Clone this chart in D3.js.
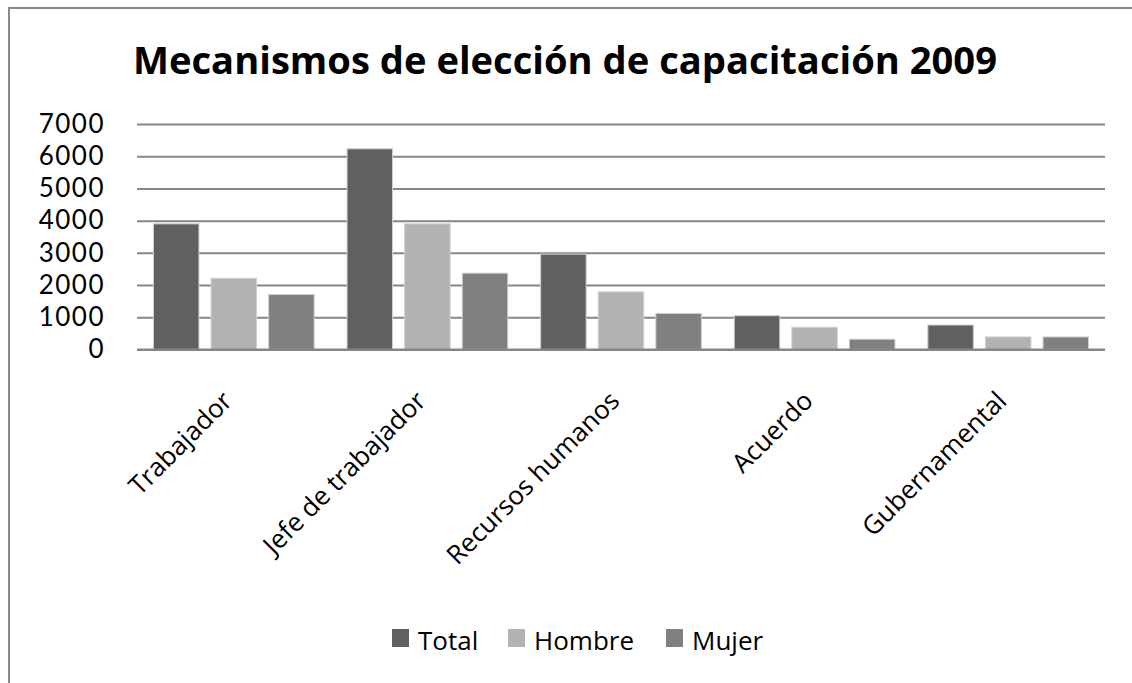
<!DOCTYPE html>
<html>
<head>
<meta charset="utf-8">
<script src="https://cdn.jsdelivr.net/npm/d3@7/dist/d3.min.js"></script>
<style>
  html, body { margin: 0; padding: 0; background: #fff; }
  svg { display: block; }
</style>
</head>
<body>
<svg id="chart" width="1132" height="683"></svg>
<script>
// Mechanisms used to choose training, 2009
const categories = ["Trabajador", "Jefe de trabajador", "Recursos humanos", "Acuerdo", "Gubernamental"];
const seriesNames = ["Total", "Hombre", "Mujer"];
const totalValues  = [3900, 6230, 2960, 1050, 760];
const hombreValues = [2210, 3900, 1790, 690, 390];
const mujerValues  = [1710, 2370, 1120, 320, 390];
const yTicks = [0, 1000, 2000, 3000, 4000, 5000, 6000, 7000];
const colors = ["#606060", "#b2b2b2", "#808080"];
const titleText = "Mecanismos de elección de capacitación 2009";

const seriesValues = [totalValues, hombreValues, mujerValues];
const rows = categories.map((c, i) => ({
  category: c,
  values: seriesNames.map((s, j) => ({ series: s, value: seriesValues[j][i], color: colors[j] }))
}));

const sansFont = "'Open Sans', Lato, sans-serif";
const tickFont = "Lato, 'Open Sans', sans-serif";

const svg = d3.select("#chart");

// outer frame
svg.append("rect")
  .attr("x", 9).attr("y", 8)
  .attr("width", 1140).attr("height", 700)
  .attr("fill", "none").attr("stroke", "#8a8a8a").attr("stroke-width", 2);

const plot = { left: 137, right: 1105, top: 124, bottom: 349.5 };

const x0 = d3.scaleBand()
  .domain(categories)
  .range([plot.left, plot.right])
  .paddingInner(0.17)
  .paddingOuter(0.085);

const x1 = d3.scaleBand()
  .domain(seriesNames)
  .range([0, x0.bandwidth()])
  .paddingInner(0.21)
  .paddingOuter(0);

const y = d3.scaleLinear()
  .domain([0, 7000])
  .range([plot.bottom, plot.top]);

// title
svg.append("text")
  .attr("x", 565).attr("y", 74)
  .attr("text-anchor", "middle")
  .style("font-family", sansFont)
  .style("font-size", "37px")
  .style("font-weight", 700)
  .attr("fill", "#000")
  .attr("textLength", 864)
  .attr("lengthAdjust", "spacingAndGlyphs")
  .text(titleText);

// gridlines and value labels
const yAxis = d3.axisLeft(y)
  .tickValues(yTicks)
  .tickSize(-(plot.right - plot.left))
  .tickPadding(32)
  .tickFormat(d3.format("d"));

const gy = svg.append("g")
  .attr("transform", `translate(${plot.left},0)`)
  .call(yAxis);
gy.select(".domain").remove();
gy.selectAll(".tick line").attr("stroke", "#868686").attr("stroke-width", 2);
gy.selectAll(".tick text")
  .style("font-family", tickFont)
  .style("font-size", "26px")
  .style("letter-spacing", "1.5px")
  .attr("fill", "#000");

// bars
const groups = svg.append("g").selectAll("g")
  .data(rows)
  .join("g")
  .attr("transform", d => `translate(${x0(d.category)},0)`);

groups.selectAll("rect")
  .data(d => d.values)
  .join("rect")
  .attr("x", d => x1(d.series))
  .attr("width", x1.bandwidth())
  .attr("y", d => y(d.value))
  .attr("height", d => y(0) - y(d.value))
  .attr("fill", d => d.color)
  .attr("stroke", "#d0d0d0")
  .attr("stroke-width", 1);

// baseline
svg.append("line")
  .attr("x1", plot.left).attr("x2", plot.right)
  .attr("y1", y(0)).attr("y2", y(0))
  .attr("stroke", "#868686").attr("stroke-width", 2);

// category labels, rotated
const xAxis = d3.axisBottom(x0).tickSize(0).tickPadding(0);
const gx = svg.append("g")
  .attr("transform", `translate(0,${plot.bottom})`)
  .call(xAxis);
gx.select(".domain").remove();
gx.selectAll(".tick text")
  .style("font-family", sansFont)
  .style("font-size", "26px")
  .attr("fill", "#000")
  .attr("text-anchor", "end")
  .attr("dy", null)
  .attr("y", 0)
  .attr("transform", "translate(0,53) rotate(-45)");

// legend
const legendX = [392, 508, 666];
const legend = svg.append("g").selectAll("g")
  .data(seriesNames)
  .join("g")
  .attr("transform", (d, i) => `translate(${legendX[i]},629)`);
legend.append("rect")
  .attr("width", 17).attr("height", 18)
  .attr("fill", (d, i) => colors[i]);
legend.append("text")
  .attr("x", 26).attr("y", 21)
  .style("font-family", sansFont)
  .style("font-size", "26px")
  .attr("fill", "#000")
  .text(d => d);
</script>
</body>
</html>
